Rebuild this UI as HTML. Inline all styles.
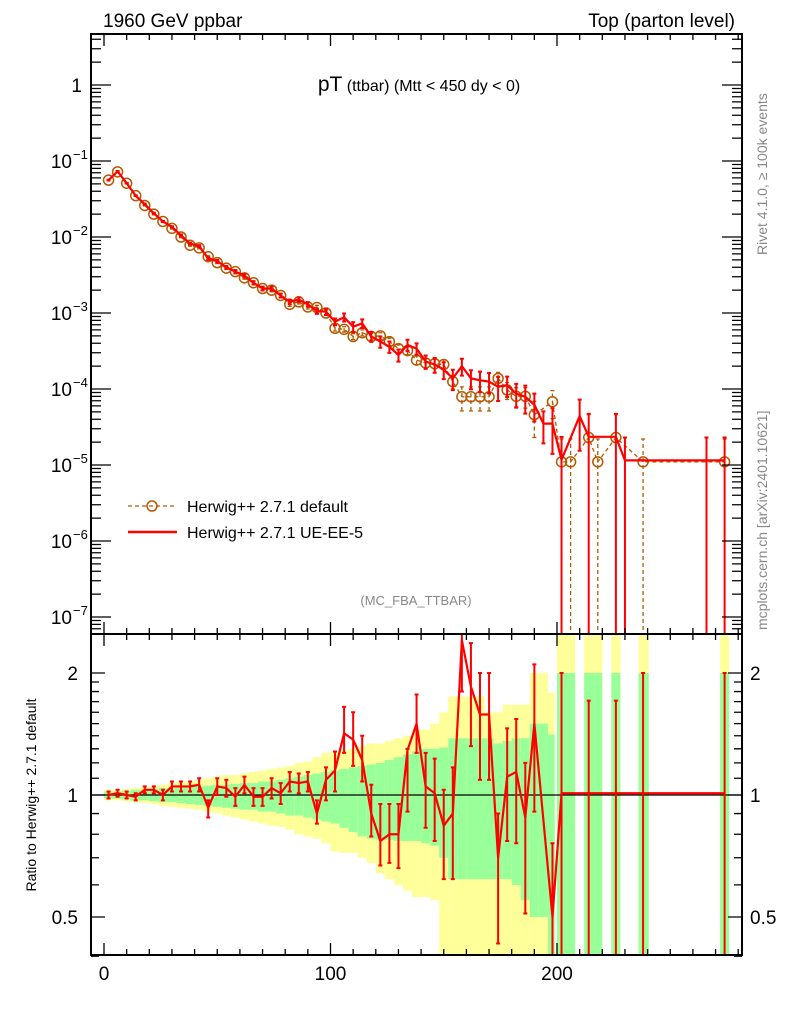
<!DOCTYPE html>
<html><head><meta charset="utf-8"><style>
html,body{margin:0;padding:0;background:#fff;}
svg{display:block;font-family:"Liberation Sans",sans-serif;}
</style></head><body>
<svg id="chart" width="786" height="1024" viewBox="0 0 786 1024" xmlns="http://www.w3.org/2000/svg">
<defs>
<clipPath id="clipMain"><rect x="91" y="34" width="651" height="600"/></clipPath>
<clipPath id="clipRatio"><rect x="91" y="634" width="651" height="321"/></clipPath>
</defs>
<rect x="0" y="0" width="786" height="1024" fill="#fff"/>
<g id="bands" clip-path="url(#clipRatio)"></g>
<g id="ratioMarks" clip-path="url(#clipRatio)"></g>
<g id="mainMarks" clip-path="url(#clipMain)"></g>
<g id="axes"></g>
<text x="103" y="27" font-size="19">1960 GeV ppbar</text>
<text x="735" y="27" font-size="19" text-anchor="end">Top (parton level)</text>
<text x="419" y="91" text-anchor="middle"><tspan font-size="21">pT</tspan><tspan font-size="16"> (ttbar) (Mtt &lt; 450 dy &lt; 0)</tspan></text>
<text x="416" y="605" font-size="13" fill="#888" text-anchor="middle">(MC_FBA_TTBAR)</text>
<text transform="translate(767,255) rotate(-90)" font-size="14" fill="#888">Rivet 4.1.0, ≥ 100k events</text>
<text transform="translate(767,630) rotate(-90)" font-size="14" fill="#888">mcplots.cern.ch [arXiv:2401.10621]</text>
<text transform="translate(36,795) rotate(-90)" font-size="14" text-anchor="middle">Ratio to Herwig++ 2.7.1 default</text>
<g>
<g>
<line x1="128" y1="506" x2="177" y2="506" stroke="#b35a00" stroke-width="1.3" stroke-dasharray="4,3"/>
<circle cx="152" cy="506" r="5" fill="none" stroke="#b35a00" stroke-width="1.5"/>
<text x="187" y="512" font-size="16">Herwig++ 2.7.1 default</text>
</g>
<g>
<line x1="128" y1="532" x2="177" y2="532" stroke="#f00" stroke-width="2.5"/>
<text x="187" y="538" font-size="16">Herwig++ 2.7.1 UE-EE-5</text>
</g>
</g>
</svg>
<script>
// ---- data ----
const defPt  = [2,6,10,14,18,22,26,30,34,38,42,46,50,54,58,62,66,70,74,78,82,86,90,94,98,102,106,110,114,118,122,126,130,134,138,142,146,150,154,158,162,166,170,174,178,182,186,190,198,202,206,214,218,226,238,274];
const defVal = [0.056,0.072,0.051,0.035,0.026,0.020,0.016,0.013,0.010,0.0078,0.0072,0.0055,0.0046,0.0039,0.0035,0.0029,0.0025,0.0021,0.0020,0.0017,0.0013,0.0014,0.0012,0.00118,0.00100,6.3e-4,6.1e-4,4.9e-4,5.5e-4,4.9e-4,5.0e-4,4.2e-4,3.4e-4,3.2e-4,2.4e-4,2.2e-4,2.15e-4,2.1e-4,1.25e-4,7.9e-5,7.9e-5,7.9e-5,7.9e-5,1.38e-4,9.7e-5,8.0e-5,8.0e-5,4.6e-5,6.8e-5,1.1e-5,1.1e-5,2.3e-5,1.1e-5,2.3e-5,1.1e-5,1.1e-5];
const defErr = [0.01,0.01,0.01,0.01,0.01,0.02,0.02,0.02,0.02,0.03,0.03,0.03,0.03,0.04,0.04,0.04,0.04,0.05,0.05,0.05,0.06,0.06,0.06,0.07,0.07,0.08,0.08,0.09,0.09,0.1,0.1,0.11,0.12,0.12,0.13,0.14,0.14,0.15,0.2,0.35,0.35,0.35,0.35,0.2,0.25,0.3,0.3,0.5,0.4,1,1,1,1,1,1,1];
const redPt  = [2,6,10,14,18,22,26,30,34,38,42,46,50,54,58,62,66,70,74,78,82,86,90,94,98,102,106,110,114,118,122,126,130,134,138,142,146,150,154,158,162,166,170,174,178,182,186,190,194,198,202,210,214,226,230,266,274];
const redVal = [0.056,0.073,0.051,0.035,0.027,0.0205,0.016,0.0136,0.0105,0.0082,0.0076,0.0052,0.0048,0.0040,0.0035,0.0031,0.0025,0.0021,0.0021,0.0017,0.0014,0.0015,0.0013,0.00106,1.04e-3,7.7e-4,8.8e-4,6.6e-4,7.3e-4,4.9e-4,4.2e-4,3.6e-4,2.8e-4,3.8e-4,3.4e-4,2.3e-4,2.1e-4,1.8e-4,1.38e-4,2.0e-4,1.38e-4,1.3e-4,1.25e-4,1.07e-4,1.12e-4,8.7e-5,7.9e-5,6.2e-5,3.5e-5,3.5e-5,1.17e-5,4.4e-5,2.35e-5,2.35e-5,1.15e-5,1.15e-5,1.15e-5];
const redErr = [0.01,0.01,0.01,0.01,0.02,0.02,0.02,0.02,0.03,0.03,0.03,0.04,0.04,0.04,0.05,0.05,0.05,0.06,0.06,0.06,0.07,0.07,0.07,0.08,0.09,0.1,0.12,0.15,0.13,0.15,0.17,0.17,0.18,0.17,0.17,0.2,0.22,0.25,0.3,0.25,0.28,0.3,0.3,0.35,0.3,0.34,0.4,0.4,0.45,0.6,1,0.65,1,1,1,1,1];
const ratioPt  = [2,6,10,14,18,22,26,30,34,38,42,46,50,54,58,62,66,70,74,78,82,86,90,94,98,102,106,110,114,118,122,126,130,134,138,142,146,150,154,158,162,166,170,174,178,182,186,190,198,202,214,226,238,274];
const ratioVal = [1.0,1.01,1.0,0.99,1.03,1.03,1.0,1.05,1.05,1.05,1.06,0.93,1.05,1.04,0.99,1.06,0.99,0.99,1.04,1.01,1.08,1.07,1.08,0.9,1.09,1.15,1.42,1.37,1.22,0.9,0.77,0.80,0.80,1.29,1.50,1.05,1.01,0.84,0.90,2.41,1.85,1.58,1.58,0.70,1.11,1.14,0.88,1.50,0.5,1.01,1.01,1.01,1.01,1.01];
const ratioLo  = [.98,.99,.98,.97,1.01,1.01,.97,1.02,1.02,1.02,1.02,.88,1.0,.99,.94,1.01,.94,.94,.98,.95,1.02,1.01,1.02,.85,.97,1.02,1.27,1.18,1.08,.79,.67,.68,.66,.91,1.27,.83,.77,.62,.62,1.8,1.32,1.09,1.09,.43,.77,.76,.51,.91,.3,.3,.3,.3,.3,.3];
const ratioHi  = [1.02,1.03,1.02,1.01,1.05,1.05,1.03,1.08,1.08,1.08,1.10,.97,1.10,1.09,1.04,1.11,1.04,1.04,1.10,1.07,1.14,1.13,1.14,.97,1.17,1.28,1.65,1.60,1.40,1.06,.95,.95,.95,1.30,1.77,1.27,1.23,1.03,1.17,3.0,2.37,2.0,2.0,.9,1.46,1.54,1.2,2.1,.76,2.0,1.71,1.71,2.0,2.0];
const bandLo = [0,4,8,12,16,20,24,28,32,36,40,44,48,52,56,60,64,68,72,76,80,84,88,92,96,100,104,108,112,116,120,124,128,132,136,140,144,148,152,156,160,164,168,172,176,180,184,188,192,196,200,212,224,236,272];
const bandHi = [4,8,12,16,20,24,28,32,36,40,44,48,52,56,60,64,68,72,76,80,84,88,92,96,100,104,108,112,116,120,124,128,132,136,140,144,148,152,156,160,164,168,172,176,180,184,188,192,196,199,208,220,228,240.5,276];
const greenHi = [1.02,1.02,1.025,1.03,1.03,1.035,1.04,1.04,1.045,1.05,1.05,1.055,1.06,1.06,1.065,1.07,1.07,1.08,1.08,1.09,1.10,1.11,1.12,1.13,1.14,1.15,1.16,1.17,1.18,1.19,1.20,1.22,1.24,1.26,1.28,1.30,1.30,1.31,1.38,1.38,1.38,1.38,1.38,1.34,1.36,1.38,1.38,1.50,1.50,1.41,2.0,2.0,2.0,2.0,2.0];
const greenLo = [.98,.98,.975,.97,.97,.965,.96,.96,.955,.95,.945,.94,.935,.93,.925,.92,.92,.91,.91,.90,.89,.89,.88,.87,.86,.85,.83,.81,.79,.78,.775,.775,.77,.77,.77,.76,.75,.70,.62,.62,.62,.62,.62,.62,.62,.60,.55,.50,.50,.30,.30,.30,.30,.30,.30];
const yellowHi = [1.03,1.03,1.035,1.04,1.045,1.05,1.06,1.07,1.08,1.08,1.09,1.10,1.11,1.12,1.12,1.13,1.14,1.15,1.16,1.17,1.18,1.20,1.21,1.24,1.27,1.28,1.29,1.30,1.32,1.34,1.34,1.36,1.38,1.40,1.45,1.45,1.50,1.60,1.75,1.75,1.75,1.75,1.60,1.60,1.67,1.67,1.67,2.0,2.0,1.79,3,3,3,3,3];
const yellowLo = [.97,.97,.965,.96,.955,.95,.94,.935,.93,.925,.92,.91,.90,.89,.88,.87,.86,.85,.84,.835,.82,.80,.79,.78,.76,.725,.72,.72,.70,.68,.64,.62,.60,.58,.56,.56,.55,.30,.30,.30,.30,.30,.30,.30,.30,.30,.30,.30,.30,.30,.30,.30,.30,.30,.30];
const xTicks = [0,100,200];
const mainYTickLabels = ["1","10","10","10","10","10","10","10"];
const mainYExp = [0,-1,-2,-3,-4,-5,-6,-7];
const ratioTicks = [0.5,1,2];

// ---- axis functions ----
const X0=91,X1=742,YT=34,YM=634,YB=955;
const sx = v => 104 + v*2.265;
const sy = v => 85 - 76*Math.log10(v);
const sr = r => 795 - 122*Math.log2(r);
const NS="http://www.w3.org/2000/svg";
function mk(tag, attrs, parent){const e=document.createElementNS(NS,tag);for(const k in attrs)e.setAttribute(k,attrs[k]);parent.appendChild(e);return e;}

// bands
const bands=document.getElementById('bands');
for(let i=0;i<bandLo.length;i++){
  const x=sx(bandLo[i]), w=sx(bandHi[i])-sx(bandLo[i]);
  const y=mk('rect',{x:x,y:sr(yellowHi[i]),width:w,height:sr(yellowLo[i])-sr(yellowHi[i]),fill:'#ffff99'},bands);
  
  
  const g=mk('rect',{x:x,y:sr(greenHi[i]),width:w,height:sr(greenLo[i])-sr(greenHi[i]),fill:'#99ff99'},bands);
  
  
}
// ratio series
const rm=document.getElementById('ratioMarks');
const refl=mk('line',{x1:X0,y1:sr(1),x2:X1,y2:sr(1),stroke:'#000','stroke-width':1.2},rm);


for(let i=0;i<ratioPt.length;i++){
  const x=sx(ratioPt[i]);
  const b=mk('path',{d:`M${x},${sr(ratioLo[i])}V${sr(ratioHi[i])}M${x-2},${sr(ratioLo[i])}h4M${x-2},${sr(ratioHi[i])}h4`,stroke:'#f00','stroke-width':2,fill:'none'},rm);
  
  
}
const rl=mk('polyline',{points:ratioPt.map((p,i)=>sx(p)+','+sr(ratioVal[i])).join(' '),fill:'none',stroke:'#f00','stroke-width':2.2,'stroke-linejoin':'round'},rm);



// main series
const mm=document.getElementById('mainMarks');
const lo = (v,e)=> v*(1-e) > 1e-9 ? sy(v*(1-e)) : 700;
const dl=mk('polyline',{points:defPt.map((p,i)=>sx(p)+','+sy(defVal[i])).join(' '),fill:'none',stroke:'#b35a00','stroke-width':1.3,'stroke-dasharray':'4,3'},mm);


for(let i=0;i<defPt.length;i++){
  const x=sx(defPt[i]),v=defVal[i],e=defErr[i];
  const b=mk('path',{d:`M${x},${lo(v,e)}V${sy(v*(1+e))}M${x-2},${lo(v,e)}h4M${x-2},${sy(v*(1+e))}h4`,stroke:'#b35a00','stroke-width':1.3,'stroke-dasharray':'4,3',fill:'none'},mm);
  
  
  const c=mk('circle',{cx:x,cy:sy(v),r:5,fill:'none',stroke:'#b35a00','stroke-width':1.5},mm);
  
  
}
for(let i=0;i<redPt.length;i++){
  const x=sx(redPt[i]),v=redVal[i],e=redErr[i];
  const b=mk('path',{d:`M${x},${lo(v,e)}V${sy(v*(1+e))}M${x-2},${lo(v,e)}h4M${x-2},${sy(v*(1+e))}h4`,stroke:'#f00','stroke-width':2,fill:'none'},mm);
  
  
}
const red=mk('polyline',{points:redPt.map((p,i)=>sx(p)+','+sy(redVal[i])).join(' '),fill:'none',stroke:'#f00','stroke-width':2.2,'stroke-linejoin':'round'},mm);



// axes
const ax=document.getElementById('axes');
const fr1=mk('rect',{x:X0,y:YT,width:X1-X0,height:YM-YT,fill:'none',stroke:'#000','stroke-width':2},ax);


const fr2=mk('rect',{x:X0,y:YM,width:X1-X0,height:YB-YM,fill:'none',stroke:'#000','stroke-width':2},ax);


let d='';
for(let v=0;v<=280;v+=10){
  const x=sx(v); const L=(v%100===0)?12:6;
  if(x>X1)break;
  d+=`M${x},${YB}v${-L}M${x},${YM}v${-L}M${x},${YM}v${L}M${x},${YT}v${L}`;
}
for(let k=0;k>=-8;k--){
  for(let m=1;m<10;m++){
    const y=sy(m*Math.pow(10,k)); if(y<YT||y>YM)continue;
    const L=(m===1)?20:10;
    d+=`M${X0},${y}h${L}M${X1},${y}h${-L}`;
  }
}
[0.4,0.5,0.6,0.7,0.8,0.9,1,1.1,1.2,1.3,1.4,1.5,1.6,1.7,1.8,1.9,2].forEach(r=>{
  const y=sr(r); const L=(r===0.5||r===1||r===2)?14:8;
  d+=`M${X0},${y}h${L}M${X1},${y}h${-L}`;
});
const tk=mk('path',{d:d,stroke:'#000','stroke-width':1.3,fill:'none'},ax);


xTicks.forEach(v=>{
  const t=mk('text',{x:sx(v),y:980,'font-size':19,'text-anchor':'middle'},ax);
  t.textContent=v;
  
  
});
mainYExp.forEach((e,i)=>{
  const t=mk('text',{x:e===0?82:72,y:sy(Math.pow(10,e))+7,'font-size':19,'text-anchor':'end'},ax);
  t.textContent=mainYTickLabels[i];
  
  
  if(e!==0){
    const s=mk('text',{x:73,y:sy(Math.pow(10,e))-2,'font-size':13},ax);
    s.textContent='−'+(-e);
    
    
  }
});
ratioTicks.forEach(r=>{
  const t=mk('text',{x:78,y:sr(r)+7,'font-size':19,'text-anchor':'end'},ax);
  t.textContent=r;
  
  
  const t2=mk('text',{x:750,y:sr(r)+7,'font-size':19},ax);
  t2.textContent=r;
  
  
});
</script>
</body></html>
